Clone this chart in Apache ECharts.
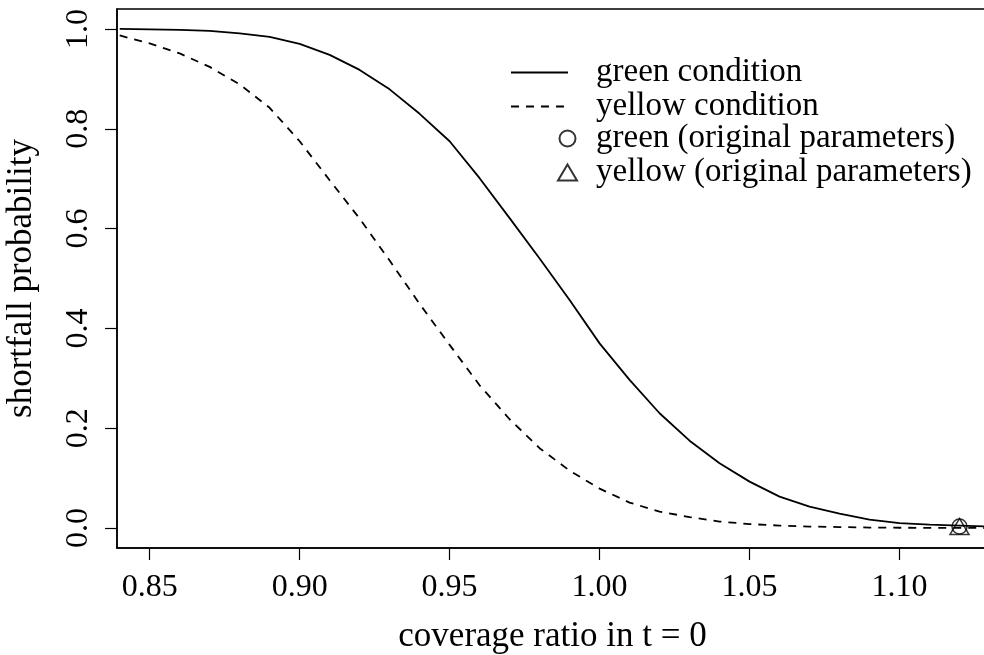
<!DOCTYPE html>
<html>
<head>
<meta charset="utf-8">
<script src="https://cdn.jsdelivr.net/npm/echarts@6/dist/echarts.min.js"></script>
<style>
html,body{margin:0;padding:0;background:#fff;}
#chart{width:984px;height:655px;}
</style>
</head>
<body>
<div id="chart"></div>
<script>
// Data
const coverage = [0.84,0.85,0.86,0.87,0.88,0.89,0.90,0.91,0.92,0.93,0.94,0.95,0.96,0.97,0.98,0.99,1.00,1.01,1.02,1.03,1.04,1.05,1.06,1.07,1.08,1.09,1.10,1.11,1.12,1.13];
const greenProb = [1.000,0.999,0.998,0.996,0.991,0.984,0.970,0.948,0.918,0.879,0.830,0.775,0.701,0.621,0.540,0.457,0.370,0.297,0.230,0.175,0.130,0.093,0.063,0.043,0.029,0.017,0.010,0.007,0.005,0.003];
const yellowProb = [0.987,0.971,0.951,0.924,0.889,0.842,0.775,0.697,0.620,0.536,0.449,0.367,0.286,0.218,0.160,0.115,0.079,0.051,0.033,0.022,0.013,0.008,0.005,0.003,0.002,0.001,0.0006,0.0004,0.0002,0.0001];
const greenOriginal = [[1.12, 0.003]];
const yellowOriginal = [[1.12, 0.003]];
const xTicks = [0.85,0.90,0.95,1.00,1.05,1.10];
const yTicks = [0.0,0.2,0.4,0.6,0.8,1.0];
const seriesNames = ['green condition','yellow condition','green (original parameters)','yellow (original parameters)'];
const xTitle = 'coverage ratio in t = 0';
const yTitle = 'shortfall probability';

const FONT = '"Liberation Serif", "DejaVu Serif", serif';
const FS = 32;     // tick labels
const FS_T = 35;   // axis titles
const FS_L = 33;   // legend

const chart = echarts.init(document.getElementById('chart'), null, {renderer:'canvas'});
const zip = (xs, ys) => xs.map((x,i)=>[x, ys[i]]);

chart.setOption({
  animation:false,
  backgroundColor:'#fff',
  textStyle:{fontFamily:FONT, color:'#000'},
  grid:{left:117, top:9, right:-4, bottom:107, show:true, borderColor:'#000', borderWidth:1.5, backgroundColor:'transparent', outerBoundsMode:'none', containLabel:false},
  legend:[
    {
      data:[seriesNames[0], seriesNames[1]],
      orient:'vertical', left:510, top:56, padding:0, itemGap:1,
      itemWidth:57, itemHeight:14,
      selectedMode:false,
      itemStyle:{color:'transparent', borderColor:'transparent', borderWidth:0, opacity:0},
      textStyle:{fontFamily:FONT, fontSize:FS_L, color:'#000', lineHeight:33, padding:[0,0,0,23]}
    },
    {
      data:[
        {name:seriesNames[2], icon:'circle'},
        {name:seriesNames[3], icon:'triangle'}
      ],
      orient:'vertical', left:557, top:122, padding:0, itemGap:1,
      itemWidth:19, itemHeight:16,
      selectedMode:false,
      textStyle:{fontFamily:FONT, fontSize:FS_L, color:'#000', lineHeight:33, padding:[0,0,0,14]}
    }
  ],
  xAxis:{
    type:'value', min:0.8391, max:1.1295,
    name:xTitle, nameLocation:'middle', nameGap:71,
    nameTextStyle:{fontFamily:FONT, fontSize:FS_T, color:'#000'},
    axisLine:{show:true, onZero:false, lineStyle:{color:'#000', width:1.5}},
    axisTick:{show:true, inside:false, length:12, customValues:xTicks, lineStyle:{color:'#000', width:1.2}},
    axisLabel:{show:true, customValues:xTicks, margin:24, fontFamily:FONT, fontSize:FS, color:'#000',
      formatter:v=>v.toFixed(2)},
    splitLine:{show:false}
  },
  yAxis:{
    type:'value', min:-0.04, max:1.04,
    name:yTitle, nameLocation:'middle', nameGap:78, nameRotate:90,
    nameTextStyle:{fontFamily:FONT, fontSize:FS_T, color:'#000'},
    axisLine:{show:true, onZero:false, lineStyle:{color:'#000', width:1.5}},
    axisTick:{show:true, inside:false, length:12, customValues:yTicks, lineStyle:{color:'#000', width:1.2}},
    axisLabel:{show:true, customValues:yTicks, margin:22, rotate:90, fontFamily:FONT, fontSize:FS, color:'#000',
      formatter:v=>v.toFixed(1)},
    splitLine:{show:false}
  },
  series:[
    {
      name:seriesNames[0], type:'line', data:zip(coverage, greenProb),
      showSymbol:false, symbol:'none', smooth:false,
      lineStyle:{color:'#000', width:1.8, type:'solid'},
      itemStyle:{color:'#000'}
    },
    {
      name:seriesNames[1], type:'line', data:zip(coverage, yellowProb),
      showSymbol:false, symbol:'none', smooth:false,
      lineStyle:{color:'#000', width:1.8, type:[8,7]},
      itemStyle:{color:'#000'}
    },
    {
      name:seriesNames[2], type:'scatter', data:greenOriginal,
      symbol:'circle', symbolSize:15,
      itemStyle:{color:'transparent', borderColor:'#000', borderWidth:1.5}
    },
    {
      name:seriesNames[3], type:'scatter', data:yellowOriginal,
      symbol:'triangle', symbolSize:[19,16],
      itemStyle:{color:'transparent', borderColor:'#000', borderWidth:1.5}
    }
  ]
});
</script>
</body>
</html>
